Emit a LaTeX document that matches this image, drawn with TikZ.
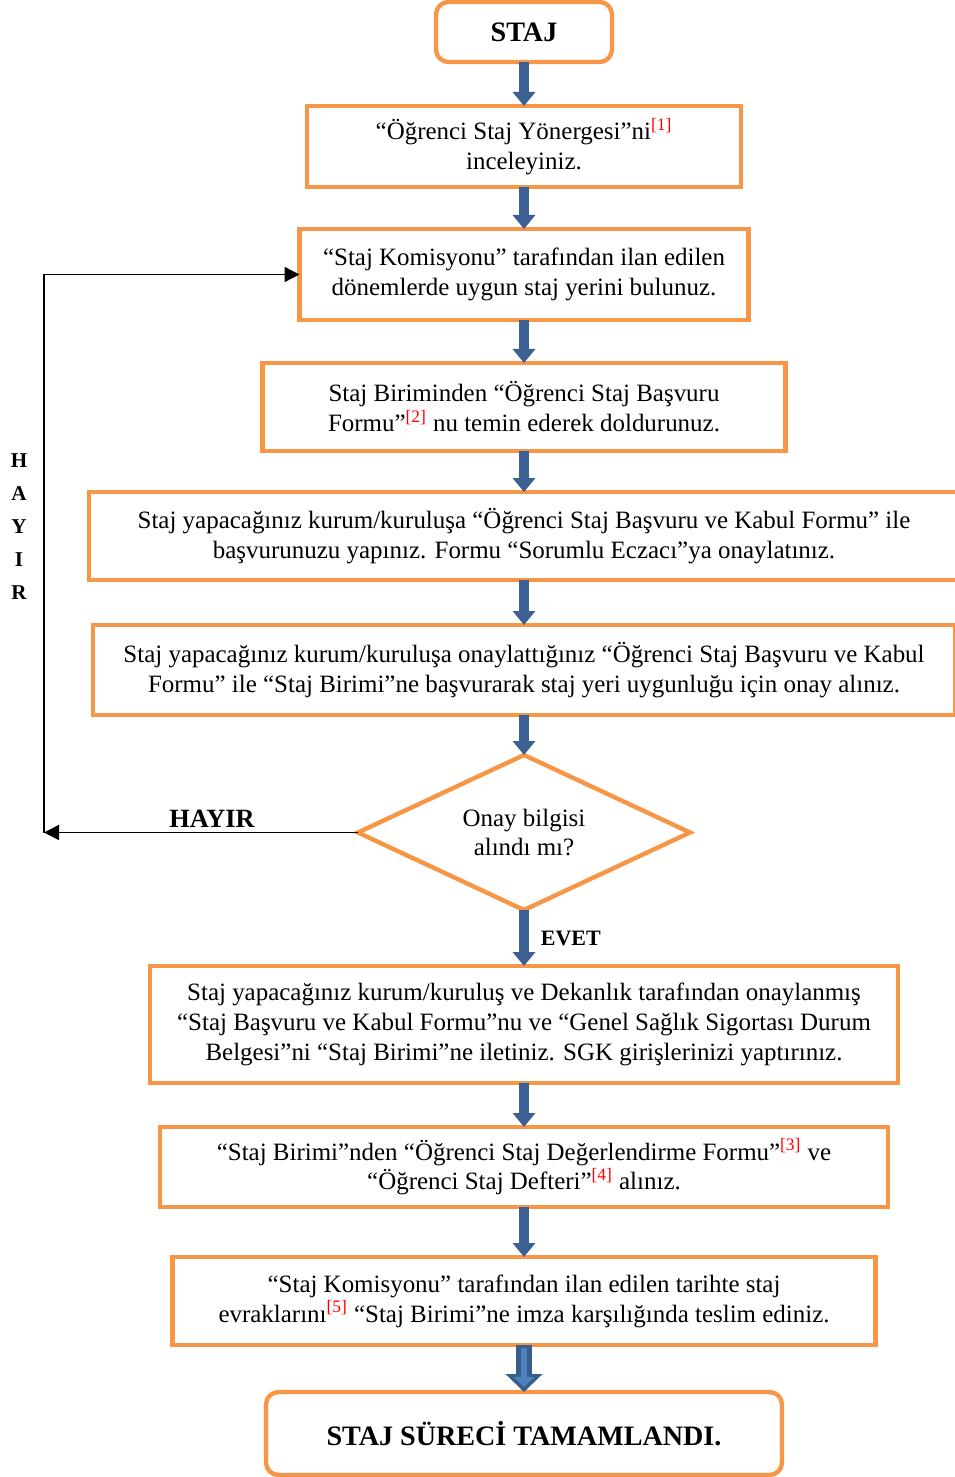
\documentclass[tikz,border=0pt]{standalone}
\usepackage{fontspec}
\setmainfont{Liberation Serif}
\usetikzlibrary{arrows.meta,positioning,shapes.geometric}

\definecolor{kututuruncu}{HTML}{F79646}
\definecolor{okmavi}{HTML}{3C6094}
\definecolor{okkoyu}{HTML}{385D8A}
\definecolor{okacik}{HTML}{4F81BD}
\newcommand{\dipnot}[1]{\textsuperscript{\color{red}[#1]}}

\begin{document}
\begin{tikzpicture}[node distance=0.88cm, font=\fontsize{14.2}{17}\selectfont,
                    akis/.style={draw=okmavi, line width=0.2cm, -{Triangle[width=0.44cm,length=0.28cm]}},
                    geri/.style={draw=black, line width=0.8pt, -{Triangle[width=0.3cm,length=0.3cm]}}]
  \tikzstyle{adim}=[draw=kututuruncu, line width=2.5pt, align=center, inner sep=2pt, outer sep=0pt]
  \tikzstyle{uc}=[adim, rounded corners=0.25cm, font=\fontsize{16}{20}\selectfont\bfseries]
  \tikzstyle{karar}=[adim, diamond, aspect=2.6, inner sep=0pt]

  \useasboundingbox (0,0) rectangle (19.08,-29.54);

  \node[uc, minimum width=3.52cm, minimum height=1.2cm] (staj) at (10.48,-0.64) {STAJ};
  \node[adim, minimum width=8.68cm, minimum height=1.62cm, below=0.88cm of staj] (yonerge)
       {“Öğrenci Staj Yönergesi”ni\dipnot{1}\\inceleyiniz.};
  \node[adim, minimum width=8.98cm, minimum height=1.82cm, below=0.84cm of yonerge] (komisyon)
       {“Staj Komisyonu” tarafından ilan edilen\\dönemlerde uygun staj yerini bulunuz.};
  \node[adim, minimum width=10.46cm, minimum height=1.76cm, below=0.86cm of komisyon] (birim)
       {Staj Biriminden “Öğrenci Staj Başvuru\\Formu”\dipnot{2} nu temin ederek doldurunuz.};
  \node[adim, minimum width=17.4cm, minimum height=1.76cm, below=0.82cm of birim] (kurum)
       {Staj yapacağınız kurum/kuruluşa “Öğrenci Staj Başvuru ve Kabul Formu” ile\\başvurunuzu yapınız. Formu “Sorumlu Eczacı”ya onaylatınız.};
  \node[adim, minimum width=17.24cm, minimum height=1.8cm, below=0.9cm of kurum] (onay)
       {Staj yapacağınız kurum/kuruluşa onaylattığınız “Öğrenci Staj Başvuru ve Kabul\\Formu” ile “Staj Birimi”ne başvurarak staj yeri uygunluğu için onay alınız.};
  \node[karar, minimum width=6.64cm, minimum height=3.1cm, below=0.8cm of onay] (karar)
       {Onay bilgisi\\alındı mı?};
  \node[adim, minimum width=14.96cm, minimum height=2.34cm, below=1.12cm of karar] (dekanlik)
       {Staj yapacağınız kurum/kuruluş ve Dekanlık tarafından onaylanmış\\“Staj Başvuru ve Kabul Formu”nu ve “Genel Sağlık Sigortası Durum\\Belgesi”ni “Staj Birimi”ne iletiniz. SGK girişlerinizi yaptırınız.};
  \node[adim, minimum width=14.56cm, minimum height=1.6cm, below=0.88cm of dekanlik] (degerlendirme)
       {“Staj Birimi”nden “Öğrenci Staj Değerlendirme Formu”\dipnot{3} ve\\“Öğrenci Staj Defteri”\dipnot{4} alınız.};
  \node[adim, minimum width=14.06cm, minimum height=1.76cm, below=1.0cm of degerlendirme] (evrak)
       {“Staj Komisyonu” tarafından ilan edilen tarihte staj\\evraklarını\dipnot{5} “Staj Birimi”ne imza karşılığında teslim ediniz.};
  \node[uc, minimum width=10.32cm, minimum height=1.66cm, below=0.94cm of evrak] (son)
       {STAJ SÜRECİ TAMAMLANDI.};

  \node[font=\fontsize{12}{18.8}\selectfont\bfseries, align=center] (hayirdikey) at (0.38,-10.54)
       {H\\A\\Y\\I\\R};
  \coordinate (ray) at (0.88,0);
  \coordinate (hayirkose) at (ray |- karar.west);

  \draw[akis] (staj) -- (yonerge);
  \draw[akis] (yonerge) -- (komisyon);
  \draw[akis] (komisyon) -- (birim);
  \draw[akis] (birim) -- (kurum);
  \draw[akis] (kurum) -- (onay);
  \draw[akis] (onay) -- (karar);
  \draw[akis] (karar) -- node[right=0.12cm, font=\fontsize{12.5}{15}\selectfont\bfseries] (evet) {EVET} (dekanlik);
  \draw[akis] (dekanlik) -- (degerlendirme);
  \draw[akis] (degerlendirme) -- (evrak);
  \draw[draw=okkoyu, line width=0.32cm, -{Triangle[width=0.72cm,length=0.36cm]}] (evrak) -- (son);
  \draw[draw=okacik, line width=0.12cm, shorten <=0.06cm, shorten >=0.1cm,
        -{Triangle[width=0.4cm,length=0.2cm]}] (evrak) -- (son);

  \draw[geri] (karar.west) -- node[pos=0.465, above=-1pt, font=\fontsize{15}{18}\selectfont\bfseries] (hayiryatay) {HAYIR} (hayirkose);
  \draw[geri] (hayirkose) |- (komisyon.west);

\end{tikzpicture}
\end{document}
